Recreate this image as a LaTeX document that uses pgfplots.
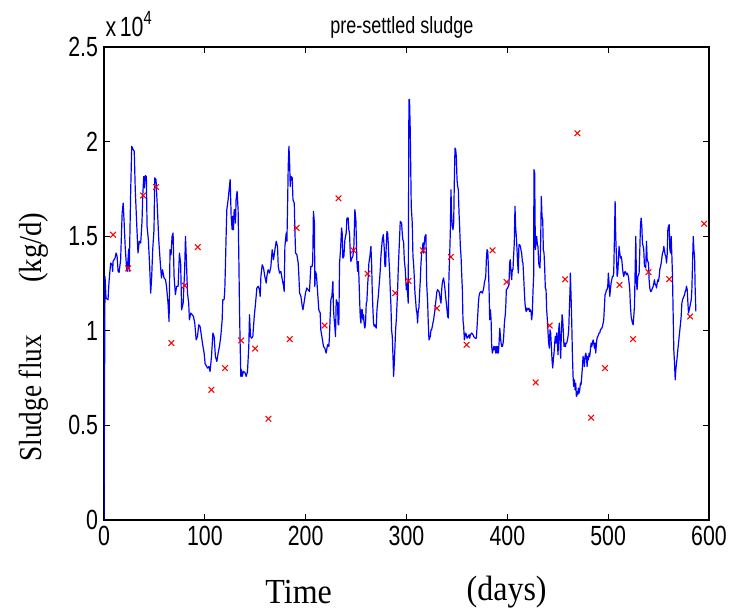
\documentclass[border=0pt]{standalone}
\usepackage{pgfplots}
\pgfplotsset{compat=1.18}
\usepackage{fontspec}
\setmainfont{Liberation Serif}
\newfontfamily\arialfont{Liberation Sans}
\definecolor{mblue}{RGB}{0,0,255}
\definecolor{mred}{RGB}{255,0,0}
\newcommand{\tl}[1]{\scalebox{1}[1.3]{#1}}
\pgfplotstableread{
x y
0 0
1 12870
2 11730
4 11640
5 12610
6.6 13580
8 13490
8.6 13140
9 13670
11 13850
12 14110
13 13930
14 13140
15 13090
16.5 13760
18 16220
19 16750
20 15700
21 14460
22.5 13230
23 13140
24.5 14320
25 13140
26.5 17460
27.5 19750
29 19570
30 19490
31 17460
32.4 15700
33.7 14110
35 14730
36.4 14640
37.7 15780
38.4 17100
39.4 18160
40 17550
41 18200
42 18160
42.7 15520
44 14810
45.3 13400
46.3 11990
47.3 12870
48.3 14290
49.6 15340
50.3 18080
51.6 17990
53 16400
54.3 14810
55.6 13760
57 12790
58 13230
59.6 12790
61 12700
62 12350
63.5 11460
64.5 10490
65.5 14290
66.5 14020
67.5 14990
68.5 15170
69.5 12870
70.8 11910
72 12350
73.5 12350
74.8 14110
76 13580
77 11110
78.5 11460
80 13230
80.8 14990
81.8 13580
82.8 11990
84 11460
84.7 10580
86 10940
87.4 10850
88.7 10760
90 10410
91.4 9520
92.7 9700
94 10320
95.3 10230
96.7 9700
98 9220
99.3 8820
100.3 8250
101 8200
102.6 8030
104 8110
105.2 7850
106.6 8640
108 9880
109.2 9700
110.5 8640
111.9 8380
113.2 8820
114.5 9170
115.8 9700
117.2 10580
117.8 11640
119.1 11640
119.8 12170
120.5 13580
121.1 14990
121.8 16400
123.1 16930
124.4 17630
125.1 17990
126.1 16050
127.1 15340
127.7 16050
128.4 15340
129.1 16400
129.8 16400
130.4 15700
131 16930
132 17370
133 16400
133.7 13930
134.4 11110
135 9350
135.7 7590
136.4 7940
137 7590
138.3 7850
139.7 7800
141 7590
142.3 7850
143.6 9170
144.3 10850
145.3 9700
146.3 9610
147.6 9700
149 10760
150.3 11460
151.6 12260
152.9 12350
154.2 12170
154.9 11820
155.6 12870
156.9 13490
158.2 13320
159.5 12870
160.9 12520
161.5 12870
162.8 13230
164.2 13050
165.5 13400
166.8 14290
168.1 13760
169.5 14290
170.8 14730
172.1 14460
172.8 13400
174.1 13050
175.4 13140
176.8 12700
178.1 12350
178.7 12080
179.4 14460
180.7 15170
181.4 14730
182 16400
182.7 18690
183.4 19750
184 19050
184.7 17630
185.4 18160
186.7 18080
187.4 16930
188.7 16750
189.3 15340
190 14110
191.3 14020
192.6 13580
193.3 12870
194 11990
195.3 11820
196.6 11290
197.3 11110
198.6 11550
199.8 11990
201.1 12260
202.4 12170
203.8 12080
205.1 13400
206.4 13400
207 13670
207.7 16310
208.7 15700
209.1 12350
209.7 13140
210.7 12960
211.7 12170
213 11110
214.4 10940
215 10050
216.4 9610
217.7 9170
219 9080
220.3 8820
221.7 9260
223 9170
223.6 9700
224.3 10760
225 11640
226 11820
227 12610
227.6 11110
228.3 10580
228.9 10230
229.6 9700
230.3 11640
231.6 11460
232.2 10320
232.9 10320
233.6 13580
234.6 14290
235.6 15430
236.2 15170
236.9 13840
237.9 13930
238.9 14810
240.2 15170
240.9 15960
242.2 15960
242.8 15340
243.5 15170
244.2 14110
244.8 13670
245.8 13840
246.8 13930
247.8 14460
248.8 16400
249.8 15870
250.8 13670
251.5 13140
252.1 13670
252.8 12870
253.4 11820
254.1 10760
254.8 10410
255.4 11110
256.1 11110
256.8 10580
257.4 10850
258.1 10320
258.7 10140
259.4 10410
260.1 11460
260.7 11550
261.4 12350
262 12870
262.7 13580
263.7 13930
264.7 14460
265.4 13580
266 12170
266.7 11110
267.3 10410
268 10230
268.7 10320
269.3 10230
270 10140
270.7 11110
272 11820
273.3 12700
274 13230
274.6 13930
276 14810
277 15080
278 14290
278.6 13400
279.3 13400
279.9 14460
280.6 15250
281.3 15170
281.9 14640
282.6 13760
283.2 13230
283.9 12170
284.6 11290
285.2 10050
285.9 9700
286.6 8640
287.2 7590
287.9 8290
288.5 9080
289.2 10050
289.9 10580
290.5 11290
291.2 12170
291.8 13230
292.5 14110
293.2 14990
293.8 15780
295.1 15700
295.8 15170
296.4 14810
297.1 14730
297.8 13760
298.8 13230
299.8 12170
300.4 12520
301.1 11990
301.7 11460
302.4 22220
303 22220
303.7 20630
304.7 16580
305.7 15700
306.4 13930
307 13580
307.7 12870
308.4 11990
309 11640
309.7 11110
310.4 10940
311 10410
311.7 11110
312.3 11200
313 11990
313.7 12700
314.3 13490
315 14110
315.7 14200
316.3 14640
317 14110
317.6 14640
318.3 14990
319.3 15080
320 12520
321 11460
321.6 10410
322.3 9520
323 9610
323.6 9700
324.3 10050
324.9 10050
325.6 10230
326.2 10410
326.9 10580
328.2 11110
328.9 11460
329.6 11820
330.2 12080
330.9 12170
332.2 12080
332.9 11910
333.5 11640
334.2 11460
334.9 12170
335.5 12520
336.2 12700
336.8 12790
337.5 12520
338.2 12170
338.8 11820
339.5 11460
340.2 11110
340.8 10760
341.5 10670
342.1 12870
342.8 13930
343.5 15340
344.1 17460
344.8 16050
345.5 15520
346.1 15340
346.8 15700
347.4 17810
348.1 19660
348.8 19570
349.4 19220
350.1 17990
350.8 17630
351.4 17460
352.1 16220
352.7 15520
353.4 14460
354.1 13930
354.7 13050
355.4 12170
356 10580
356.7 10230
357.4 9520
358 9700
358.7 9880
359.4 9790
360 9610
361.3 9700
362 9790
362.7 9610
363.3 9790
364.7 9880
366 9790
366.6 9700
368 9610
369.3 9610
370 10230
370.6 10760
371.3 11460
371.9 11820
372.6 11990
373.9 12080
375.3 11990
376.6 12260
377.2 12520
378.6 12870
379.2 13760
379.9 14290
380.6 14200
381.2 13400
381.9 12170
382.5 10580
383.2 11110
383.9 10580
384.5 9170
385.2 8820
385.9 9000
386.5 9170
387.2 9000
387.8 9170
388.5 8820
389.2 9170
389.8 8820
390.5 9170
391.1 8820
391.8 9350
392.5 10140
393.1 9700
393.8 9350
394.5 9170
395.1 9170
395.8 9350
396.4 9700
397.1 10410
398.1 10940
398.6 11460
399 12170
400.3 12260
401.6 12430
402.3 13580
402.9 13760
403.6 13050
404.3 12700
404.9 13230
405.6 13230
406.2 13930
406.9 14640
407.6 16580
408.2 15520
408.9 14990
409.6 14290
410.2 13580
410.9 13050
411.5 14550
412.2 14550
412.9 14460
413.5 14290
414.2 14110
414.9 13670
415.5 13580
416.2 12870
416.8 12170
417.5 11460
418.2 11110
418.8 11020
419.5 11200
420.2 11110
421.5 11200
422.1 11020
422.8 11110
423.5 11020
424.1 10580
424.8 10940
425.5 12170
426.1 12870
426.4 18520
427.1 18340
427.8 14290
428.4 14640
429.1 14990
429.8 14550
430.4 14460
431.1 13580
431.7 13400
432.4 13320
433.1 14810
433.7 17100
434.4 16050
435.1 15870
435.7 14290
436.4 14110
437 13400
437.7 12260
438.4 12170
439 11110
439.7 10580
440.4 9880
441 9350
441.7 9080
442.3 10050
443 9880
443.7 9170
444.3 8470
445 8030
445.6 8470
446.3 8820
447 9350
447.6 9700
448.3 9350
449 9880
449.6 9350
450.3 8730
450.9 10050
451.6 10410
452.3 9350
452.9 8550
453.6 9880
454.3 10850
454.9 10580
455.6 9880
456.2 9170
456.9 9350
457.6 9170
458.2 9350
458.9 9350
459.6 9520
460.2 9700
460.9 10050
461.5 11110
462.2 12170
462.5 13050
463.2 11820
463.9 10410
464.5 8820
465.2 7590
465.8 7060
466.5 7410
467.2 6880
467.8 7230
468.5 6530
469.2 6790
469.8 6620
470.5 6970
471.1 6700
471.8 6880
472.5 7230
473.1 7150
473.8 7590
474.5 8110
475.1 8640
475.8 8470
476.4 8110
477.1 8640
477.8 8820
478.4 8640
479.1 8110
479.8 8640
480.4 8470
481.1 8820
481.7 8640
482.4 9000
483.1 9350
483.7 9170
484.4 9350
485.1 9520
485.7 9350
486.4 9080
487 9350
487.7 8820
488.4 9350
489 9610
489.7 9700
490.4 9790
491 9880
491.7 9880
492.3 10050
493.7 10140
494.3 10230
495 10410
495.6 10580
496.3 11290
496.9 11910
497.6 11990
498.3 12170
498.9 12170
499.6 12350
500.2 13050
500.9 12520
501.6 11820
502.2 12170
502.9 12520
503.6 12700
504.2 12870
504.9 12870
505.5 13050
506.2 14810
506.9 16840
507.5 14990
508.2 13930
508.9 12870
509.5 13050
510.2 13760
510.8 14460
511.5 14110
512.2 13840
512.8 13930
513.5 13760
514.2 13320
514.8 13050
515.5 12870
516.1 13050
516.8 13140
517.5 13050
518.1 12960
518.8 13050
519.5 12960
520.1 12870
520.8 12520
521.4 12170
522.1 11290
522.8 10760
523.4 10580
524.1 10410
524.8 10320
525.4 10760
526.1 11290
526.7 13050
527.4 14990
528.1 12520
528.7 12170
529.4 12870
530.1 12960
530.7 13050
531.4 14290
532 15520
532.7 15960
533.4 15520
534 14640
534.7 14460
535.3 14290
536 13400
536.7 13400
537.3 13320
538 14730
538.7 13760
539.3 13670
540 13580
540.6 12700
541.3 12260
542 12080
542.6 12080
543.3 12170
544 12260
544.6 12350
545.3 12520
545.9 12700
546.6 12430
547.3 12430
547.9 12260
548.6 12520
549.3 12700
549.9 12610
550.6 12870
551.2 13230
551.9 13400
552.6 13580
553.2 13840
553.9 14110
554.6 14200
555.2 14460
555.9 14200
556.5 14020
557.2 13930
557.9 13580
558.5 14020
559.2 15340
559.8 15520
560.5 15610
561.2 14290
561.8 14110
562.5 14990
563.2 13930
563.8 12870
564.5 10760
565.1 9000
565.8 8290
566.5 7410
567.1 7940
567.8 8290
568.5 8640
569.1 9000
569.8 9350
570.4 9700
571.1 10050
571.8 10410
572.4 10760
573.1 11460
573.8 11640
574.4 11730
575.1 11820
575.8 11910
576.4 12080
577.1 12170
577.7 12350
578.4 12170
579.1 11460
579.7 10940
580.4 11110
581.1 11290
581.7 11460
582.4 11640
583 12170
583.7 13580
584.4 14990
585 14290
585.7 13930
586.3 12170
587 11020
}\fluxdata
\pgfplotstableread{
x y
9 15080
24 13300
38.7 17150
51.6 17600
66.8 9350
80 12390
93 14420
106.5 6880
120 8030
136 9490
149.9 9060
163.1 5350
184.3 9560
191 15440
218.7 10280
232.6 17000
247.5 14250
261.4 13020
288.8 11990
302 12640
316.3 14250
330.2 11190
344.1 13900
359.6 9260
385.4 14250
399.3 12580
428.1 7270
442 10280
457.3 12720
469.5 20440
483.1 5410
496.8 8030
511.2 12430
524.7 9560
540 13100
560.5 12730
581.3 10760
595.2 15660
}\measdata
\begin{document}
\begin{tikzpicture}
\useasboundingbox (0,0) rectangle (546.75pt,459.75pt);
\begin{axis}[
  at={(78pt,69.75pt)}, anchor=south west,
  scale only axis, width=453.75pt, height=354.75pt,
  xmin=0, xmax=600, ymin=0, ymax=25000,
  xtick={0,100,...,600},
  xticklabel={\tl{\pgfmathprintnumber{\tick}}},
  ytick={0,5000,10000,15000,20000,25000},
  yticklabels={\tl{0},\tl{0.5},\tl{1},\tl{1.5},\tl{2},\tl{2.5}},
  scaled y ticks=false,
  tick align=inside,
  major tick length=4.5pt,
  tick style={black, line width=0.6pt},
  axis line style={black, line width=0.8pt},
  /pgf/number format/assume math mode=true,
  ticklabel style={font=\arialfont\fontsize{16}{16}\selectfont},
  xticklabel style={yshift=-1pt},
  yticklabel style={xshift=-1pt},
  clip=true,
]
\addplot[mblue, line width=0.9pt, line join=round] table[x=x,y=y] {\fluxdata};
\addplot[only marks, mark=x, mark size=3pt, mred, mark options={line width=0.8pt}] table[x=x,y=y] {\measdata};
\end{axis}
% text annotations (positions in px of a 729x613 canvas, 1px = 0.75pt)
\node[font=\arialfont\fontsize{13.5}{14}\selectfont] at (301.5pt,439.5pt) {\tl{pre-settled sludge}};
\node[font=\arialfont\fontsize{16}{16}\selectfont, anchor=base west, inner sep=0pt] at (79pt,432pt) {\tl{x\,10\raisebox{7pt}{\fontsize{11}{11}\selectfont 4}}};
\node[font=\fontsize{24}{24}\selectfont] at (224pt,16pt) {\scalebox{1}[1.1]{Time}};
\node[font=\fontsize{24}{24}\selectfont] at (380pt,16pt) {\scalebox{1}[1.1]{(days)}};
\node[font=\fontsize{24}{24}\selectfont, rotate=90] at (25.5pt,161pt) {\scalebox{0.85}[1]{Sludge flux}};
\node[font=\fontsize{24}{24}\selectfont, rotate=90] at (25.5pt,274pt) {\scalebox{0.9}[1]{(kg/d)}};
\end{tikzpicture}
\end{document}
